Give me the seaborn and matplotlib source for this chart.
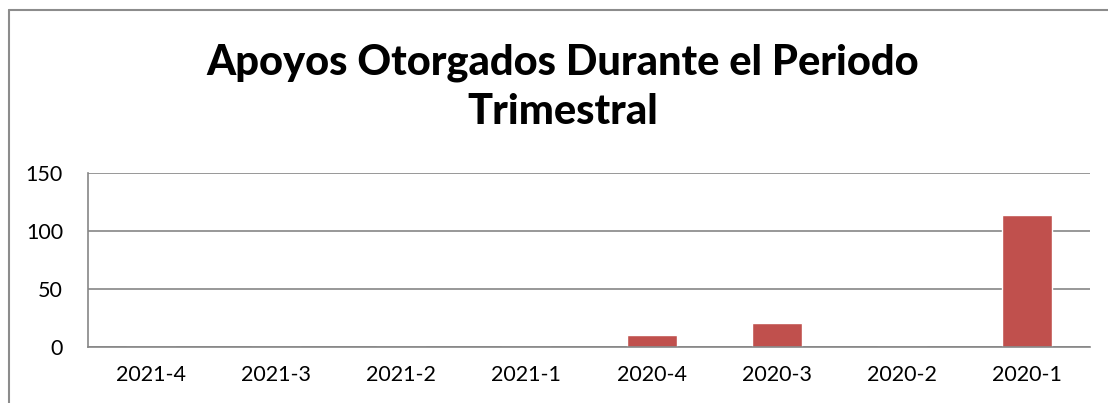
import matplotlib
matplotlib.use("Agg")
import matplotlib.pyplot as plt
import seaborn as sns
import numpy as np
from matplotlib.lines import Line2D

periods = ["2021-4", "2021-3", "2021-2", "2021-1", "2020-4", "2020-3", "2020-2", "2020-1"]
apoyos = [0, 0, 0, 0, 10, 21, 0, 114]

sns.set_style("white")
plt.rcParams['font.family'] = ['Lato', 'DejaVu Sans']
plt.rcParams['text.color'] = "black"

fig = plt.figure(figsize=(11.08, 4.03), dpi=100)
ax = fig.add_axes([88 / 1108, 56 / 403, 1002 / 1108, 174 / 403])

sns.barplot(x=periods, y=apoyos, color="#C0504D", width=0.4, saturation=1, ax=ax)

grid_col = "#868686"
ax.set_ylim(0, 150)
ax.set_xlim(-0.5, len(periods) - 0.5)
ax.set_yticks([0, 50, 100, 150])
ax.yaxis.grid(True, color=grid_col, linewidth=1.2)
ax.set_axisbelow(True)

# category boundaries as major ticks, labels on minor ticks
ax.set_xticks(np.arange(-0.5, len(periods)), labels=[""] * (len(periods) + 1))
ax.set_xticks(np.arange(len(periods)), labels=periods, minor=True)
ax.tick_params(axis="x", which="major", direction="out", length=6, color=grid_col, width=1.2)
ax.tick_params(axis="x", which="minor", length=0, labelsize=15.5, pad=13, labelcolor="black")
ax.tick_params(axis="y", direction="out", length=6, color=grid_col, width=1.2,
               labelsize=15.5, pad=12, labelcolor="black")

for s in ["top", "right"]:
    ax.spines[s].set_visible(False)
for s in ["left", "bottom"]:
    ax.spines[s].set_color(grid_col)
    ax.spines[s].set_linewidth(1.2)

ax.set_xlabel("")
ax.set_ylabel("")

fig.text(563 / 1108, 1 - 63 / 403, "Apoyos Otorgados Durante el Periodo",
         ha="center", va="center", fontsize=30, fontweight="black", color="black")
fig.text(563 / 1108, 1 - 112 / 403, "Trimestral",
         ha="center", va="center", fontsize=30, fontweight="black", color="black")

# outer chart frame (left and top edges visible)
fig.add_artist(Line2D([9 / 1108, 9 / 1108], [0, 1 - 10 / 403], transform=fig.transFigure,
                      color="#8C8C8C", linewidth=1.5))
fig.add_artist(Line2D([9 / 1108, 1], [1 - 10 / 403, 1 - 10 / 403], transform=fig.transFigure,
                      color="#8C8C8C", linewidth=1.5))

plt.savefig("out.png", dpi=100)
